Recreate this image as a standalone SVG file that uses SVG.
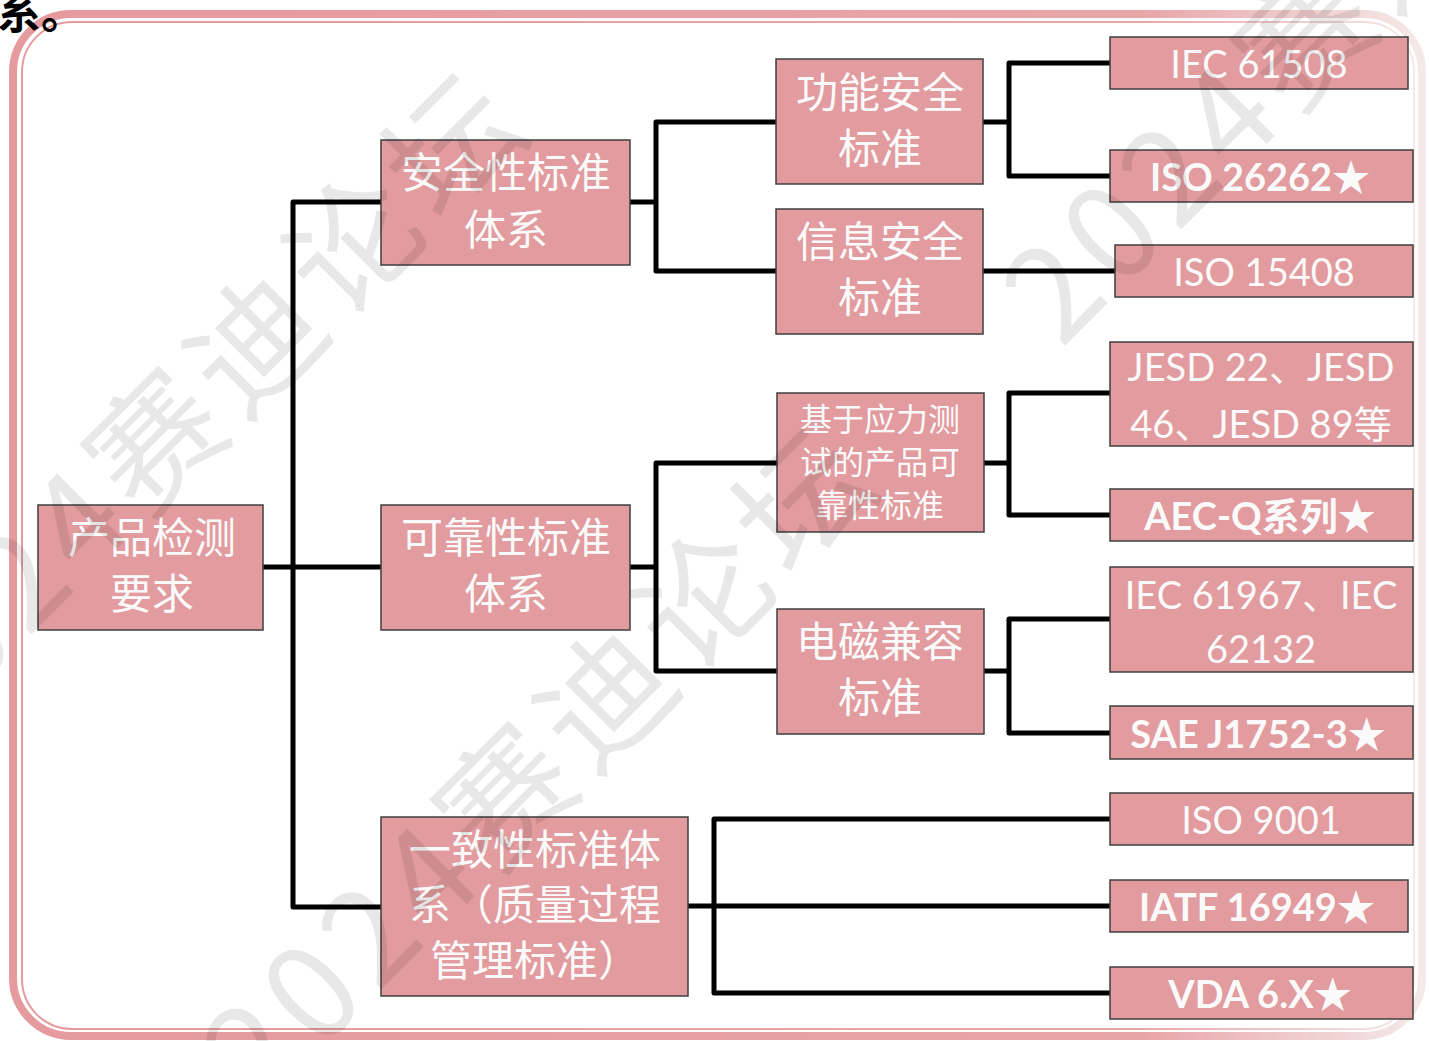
<svg xmlns="http://www.w3.org/2000/svg" width="1429" height="1041" viewBox="0 0 1429 1041">
<defs>
<linearGradient id="fg" x1="0" y1="0" x2="1" y2="0">
<stop offset="0" stop-color="#e59a9d"/>
<stop offset="0.8" stop-color="#e8a5a8"/>
<stop offset="1" stop-color="#f5e9e9"/>
</linearGradient>
<style>
.n{fill:#e29b9e;stroke:#3f3f3f;stroke-width:1.5}
.zh{font-family:"Noto Sans CJK SC","Noto Sans",sans-serif;fill:#fafafa;text-anchor:middle;dominant-baseline:central}
.en{font-family:Lato,"Noto Sans","Noto Sans CJK SC",sans-serif;fill:#fafafa;text-anchor:middle;dominant-baseline:central;font-size:38px}
.b{font-weight:bold}
.c{fill:none;stroke:#000;stroke-width:5;stroke-linecap:round;stroke-linejoin:round}
.wm{font-family:"Noto Sans CJK SC",sans-serif;font-size:130px;fill:#000;opacity:0.085;text-anchor:middle;dominant-baseline:central;letter-spacing:10px}
</style>
</defs>
<rect width="1429" height="1041" fill="#fff"/>
<rect x="13" y="14" width="1409" height="1022" rx="58" fill="none" stroke="url(#fg)" stroke-width="8"/>
<rect x="22" y="22" width="1392" height="1007" rx="50" fill="none" stroke="url(#fg)" stroke-width="2"/>
<text x="-3" y="29" font-family="Noto Sans CJK SC,sans-serif" font-weight="bold" font-size="44" fill="#000">系。</text>

<g id="connectors">
<path class="c" d="M263 567H293M293 202V907M293 202H381M293 567H381M293 907H381"/>
<path class="c" d="M630 202H656M656 122V271M656 122H776M656 271H776"/>
<path class="c" d="M983 122H1009M1009 63V176M1009 63H1110M1009 176H1110"/>
<path class="c" d="M983 271H1115"/>
<path class="c" d="M630 567H656M656 463V671M656 463H777M656 671H777"/>
<path class="c" d="M984 463H1009M1009 393V515M1009 393H1110M1009 515H1110"/>
<path class="c" d="M984 671H1009M1009 619V733M1009 619H1110M1009 733H1110"/>
<path class="c" d="M688 906H714M714 819V993M714 819H1110M714 906H1110M714 993H1110"/>
</g>

<g id="n-root"><rect class="n" x="38" y="505" width="225" height="125"/>
<text class="zh" x="152" y="534" font-size="42">产品检测</text><text class="zh" x="152" y="590" font-size="42">要求</text></g>

<g id="n-safety"><rect class="n" x="381" y="140" width="249" height="125"/>
<text class="zh" x="506" y="169" font-size="42">安全性标准</text><text class="zh" x="506" y="226" font-size="42">体系</text></g>

<g id="n-reliability"><rect class="n" x="381" y="505" width="249" height="125"/>
<text class="zh" x="506" y="534" font-size="42">可靠性标准</text><text class="zh" x="506" y="590" font-size="42">体系</text></g>

<g id="n-consistency"><rect class="n" x="381" y="817" width="307" height="179"/>
<text class="zh" x="535" y="846" font-size="42">一致性标准体</text><text class="zh" x="535" y="901" font-size="42">系（质量过程</text><text class="zh" x="535" y="957" font-size="42">管理标准）</text></g>

<g id="n-func"><rect class="n" x="776" y="59" width="207" height="125"/>
<text class="zh" x="880" y="89" font-size="42">功能安全</text><text class="zh" x="880" y="145" font-size="42">标准</text></g>

<g id="n-info"><rect class="n" x="776" y="209" width="207" height="125"/>
<text class="zh" x="880" y="238" font-size="42">信息安全</text><text class="zh" x="880" y="294" font-size="42">标准</text></g>

<g id="n-stress"><rect class="n" x="777" y="393" width="207" height="139"/>
<text class="zh" x="880" y="417" font-size="32">基于应力测</text><text class="zh" x="880" y="460" font-size="32">试的产品可</text><text class="zh" x="880" y="503" font-size="32">靠性标准</text></g>

<g id="n-emc"><rect class="n" x="777" y="609" width="207" height="125"/>
<text class="zh" x="880" y="638" font-size="42">电磁兼容</text><text class="zh" x="880" y="694" font-size="42">标准</text></g>

<g id="n-iec61508"><rect class="n" x="1110" y="37" width="298" height="52"/>
<text class="en" x="1259" y="63">IEC 61508</text></g>
<g id="n-iso26262"><rect class="n" x="1110" y="150" width="303" height="52"/>
<text class="en b" x="1260" y="176">ISO 26262★</text></g>
<g id="n-iso15408"><rect class="n" x="1115" y="245" width="298" height="52"/>
<text class="en" x="1264" y="271">ISO 15408</text></g>
<g id="n-jesd"><rect class="n" x="1110" y="342" width="303" height="104"/>
<text class="en" x="1261" y="366">JESD 22、JESD</text><text class="en" x="1261" y="423">46、JESD 89等</text></g>
<g id="n-aecq"><rect class="n" x="1110" y="489" width="303" height="52"/>
<text class="en b" x="1260" y="515">AEC-Q系列★</text></g>
<g id="n-iec61967"><rect class="n" x="1110" y="567" width="303" height="105"/>
<text class="en" x="1261" y="594">IEC 61967、IEC</text><text class="en" x="1261" y="648">62132</text></g>
<g id="n-sae"><rect class="n" x="1110" y="706" width="303" height="53"/>
<text class="en b" x="1258" y="733">SAE J1752-3★</text></g>
<g id="n-iso9001"><rect class="n" x="1110" y="793" width="303" height="52"/>
<text class="en" x="1261" y="819">ISO 9001</text></g>
<g id="n-iatf"><rect class="n" x="1110" y="880" width="298" height="52"/>
<text class="en b" x="1257" y="906">IATF 16949★</text></g>
<g id="n-vda"><rect class="n" x="1110" y="967" width="303" height="52"/>
<text class="en b" x="1260" y="993">VDA 6.X★</text></g>

<g id="watermark">
<text class="wm" transform="translate(185 400) rotate(-45)">2024赛迪论坛</text>
<text class="wm" transform="translate(535 755) rotate(-45)">2024赛迪论坛</text>
<text class="wm" transform="translate(1335 -5) rotate(-45)">2024赛迪论坛</text>
</g>
</svg>
